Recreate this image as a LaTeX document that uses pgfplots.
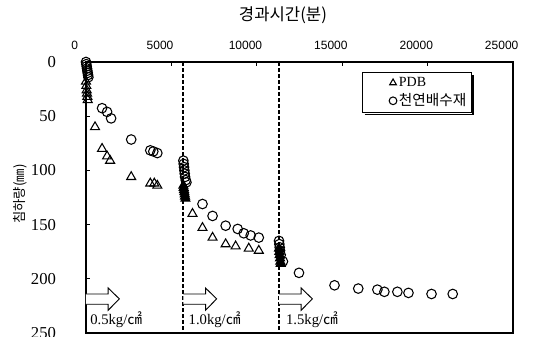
\documentclass[border=0pt]{standalone}
\usepackage{fontspec}
\setmainfont{Liberation Serif}
\newfontfamily\kr{Noto Sans CJK KR}
\newfontfamily\sansf{Liberation Sans}
\usepackage{pgfplots}
\pgfplotsset{compat=1.18}

\begin{document}
\begin{tikzpicture}
\begin{axis}[
  scale only axis, width=320.25pt, height=203.25pt,
  xmin=0, xmax=25000, ymin=0, ymax=250, y dir=reverse,
  xtick={0,5000,...,25000}, ytick={0,50,...,250},
  xtick pos=right, xticklabel pos=right, ytick pos=left,
  scaled x ticks=false,
  /pgf/number format/assume math mode=true,
  /pgf/number format/1000 sep={},
  xticklabel style={font=\sansf\fontsize{9}{11}\selectfont, xshift=-8.5pt, yshift=6pt},
  yticklabel style={font=\fontsize{12.5}{14}\selectfont, xshift=-19pt},
  tick align=inside, major tick length=3pt,
  tick style={black, line width=0.8pt},
  axis line style={line width=1.3pt},
  clip=false,
  legend style={name=leg, at={(0.646,0.963)}, anchor=north west, font=\fontsize{10.5}{12}\selectfont,
    draw=black, line width=0.8pt, fill=white, inner xsep=2pt, inner ysep=2pt, row sep=1pt,
    nodes={inner sep=1.5pt},
    legend cell align=left},
  legend image code/.code={\path[draw=none, fill=none] (0pt,-1pt) rectangle (21pt,1pt); \draw[#1, mark size=2.9pt, line width=0.6pt] plot coordinates {(21pt,0pt)};},
]
\addplot[only marks, mark=triangle, mark size=3.9pt, mark options={line width=0.8pt, fill=white}] coordinates {
(0,18) (20,22) (40,26) (60,29) (80,32) (100,35)
(529,60) (941,80) (1235,87) (1411,91) (2646,106) (3764,112) (4000,112) (4176,114)
(6235,140) (6820,153) (7410,162) (8176,168) (8760,170) (9530,172) (10117,174)
};
\addlegendentry{PDB}
\addplot[only marks, mark=o, mark size=3.6pt, mark options={line width=0.8pt}] coordinates {
(0,0) (20,2) (40,4) (60,6) (80,8) (100,10) (120,12) (140,14)
(941,42.6) (1235,46) (1470,52) (2646,71.5) (3764,81.5) (3940,82.5) (4176,84)
(5700,91) (5720,94) (5740,97) (5760,100) (5780,103) (5800,106) (5840,109) (5880,111)
(6820,131) (7410,142) (8176,151) (8880,154) (9235,158) (9640,160) (10117,162)
(11300,165) (11320,168) (11340,171) (11360,174) (11400,178) (11530,184)
(12470,194.5) (14550,206) (15940,209) (17060,210) (17470,212) (18230,212) (18880,213) (20230,214) (21470,214)
};
\addlegendentry{{\kr\fontsize{11}{12}\selectfont 천연배수재}}
\addplot[only marks, forget plot, mark=triangle*, mark size=3.9pt, mark options={line width=0.8pt, fill=black}] coordinates {
(5700,114) (5720,116) (5740,118) (5760,120) (5780,122) (5800,124) (5820,126)
(11300,172) (11320,175) (11340,178) (11360,181) (11380,184) (11400,186)
};
\addplot[forget plot, black, line width=1.5pt, dash pattern=on 3pt off 1.5pt] coordinates {(5700,0) (5700,250)};
\addplot[forget plot, black, line width=1.5pt, dash pattern=on 3pt off 1.5pt] coordinates {(11300,0) (11300,250)};
% arrows
\foreach \s in {0,5700,11300}{
  \edef\temp{\noexpand\draw[line width=0.7pt, fill=white] (axis cs:\s,214) -- (axis cs:\s+1300,214) -- (axis cs:\s+1300,208.5) -- (axis cs:\s+1950,218.5) -- (axis cs:\s+1300,229) -- (axis cs:\s+1300,223.5) -- (axis cs:\s,223.5);}
  \temp
}
\node[anchor=base west, font=\fontsize{11}{12}\selectfont, inner sep=0pt] at (axis cs:235,242.6) {0.5kg/{\kr ㎠}};
\node[anchor=base west, font=\fontsize{11}{12}\selectfont, inner sep=0pt] at (axis cs:6000,242.6) {1.0kg/{\kr ㎠}};
\node[anchor=base west, font=\fontsize{11}{12}\selectfont, inner sep=0pt] at (axis cs:11700,242.6) {1.5kg/{\kr ㎠}};
\node[font=\kr\fontsize{12.5}{13}\selectfont] at ([yshift=35.25pt]axis cs:11530,0) {경과시간(분)};
\node[font=\kr\fontsize{10}{11}\selectfont, rotate=90] at ([xshift=-49.5pt]axis cs:0,121.8) {침하량(㎜)};
\end{axis}
\draw[line width=1.1pt] ([xshift=2pt,yshift=-1.1pt]leg.south west) -- ([xshift=1.1pt,yshift=-1.1pt]leg.south east) -- ([xshift=1.1pt,yshift=-2pt]leg.north east);
\pgfresetboundingbox
\useasboundingbox (current axis.south west) ++(-64.5pt,-2.25pt) rectangle ++(406.5pt,252pt);
\end{tikzpicture}
\end{document}
